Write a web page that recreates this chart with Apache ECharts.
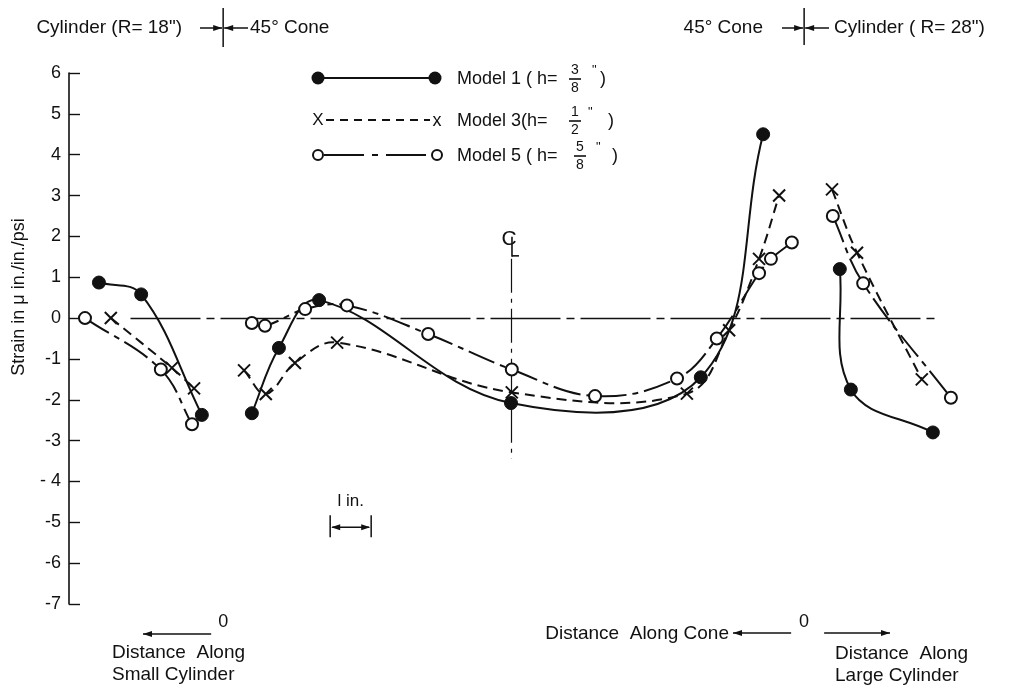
<!DOCTYPE html>
<html><head><meta charset="utf-8">
<script src="https://cdn.jsdelivr.net/npm/echarts@6/dist/echarts.min.js"></script>
<style>html,body{margin:0;padding:0;background:#fff}#c{width:1009px;height:690px}</style>
</head><body><div id="c"></div>
<script>
// ---- data (x: inches along the drawing, y: strain in micro in./in./psi) ----
const yTickLabels = ['-7','-6','-5','- 4','-3','-2','-1','0','1','2','3','4','5','6'];
const m1Small = [[0.73,0.87],[1.76,0.58],[3.24,-2.37]];
const m1Cone  = [[4.46,-2.33],[5.12,-0.73],[6.10,0.44],[10.78,-2.08],[15.41,-1.45],[16.93,4.5]];
const m1Large = [[18.80,1.2],[19.07,-1.75],[21.07,-2.8]];
const m3Small = [[1.02,0.0],[2.51,-1.22],[3.05,-1.72]];
const m3Cone  = [[4.27,-1.28],[4.80,-1.86],[5.51,-1.1],[6.54,-0.6],[10.80,-1.82],[15.07,-1.85],[16.10,-0.3],[16.83,1.45],[17.32,3.0]];
const m3Large = [[18.61,3.15],[19.22,1.6],[20.80,-1.5]];
const m5Small = [[0.39,0.0],[2.24,-1.26],[3.0,-2.6]];
const m5Cone  = [[4.46,-0.12],[4.78,-0.19],[5.76,0.22],[6.78,0.31],[8.76,-0.39],[10.80,-1.26],[12.83,-1.91],[14.83,-1.48],[15.80,-0.5],[16.83,1.1],[17.12,1.45],[17.63,1.85]];
const m5Large = [[18.63,2.5],[19.37,0.85],[21.51,-1.95]];
const junctionSmall = 3.76, junctionLarge = 17.93, centerLine = 10.78;
const scaleBar = [6.37, 7.37];

const FONT = 'Liberation Sans, Arial, sans-serif';
const INK = '#111';
const chart = echarts.init(document.getElementById('c'), null, {renderer:'canvas'});

const styles = {
  m1: {symbol:'circle', symbolSize:13, itemStyle:{color:INK, borderColor:INK, borderWidth:1, opacity:1}, dash:null},
  m3: {symbol:'path://M0,0L10,10M10,0L0,10', symbolSize:12, itemStyle:{color:'rgba(0,0,0,0)', borderColor:INK, borderWidth:2, opacity:1}, dash:[10,6]},
  m5: {symbol:'circle', symbolSize:12, itemStyle:{color:'#fff', borderColor:INK, borderWidth:2, opacity:1}, dash:[28,6,6,6]}
};

// smooth curve through the data points (chord-length Catmull-Rom in pixel space)
function curvePath(px, k){
  const n = px.length; if (n < 2) return '';
  const d = []; for (let i=0;i<n-1;i++) d.push(Math.hypot(px[i+1][0]-px[i][0], px[i+1][1]-px[i][1]));
  const m = px.map((p,i)=>{
    if (i===0) return [(px[1][0]-p[0])/d[0], (px[1][1]-p[1])/d[0]];
    if (i===n-1) return [(p[0]-px[i-1][0])/d[i-1], (p[1]-px[i-1][1])/d[i-1]];
    const s = d[i-1]+d[i];
    return [(px[i+1][0]-px[i-1][0])/s, (px[i+1][1]-px[i-1][1])/s];
  });
  let s = `M${px[0][0]},${px[0][1]}`;
  for (let i=0;i<n-1;i++){
    const L = d[i]/3*k;
    s += ` C${px[i][0]+m[i][0]*L},${px[i][1]+m[i][1]*L} ${px[i+1][0]-m[i+1][0]*L},${px[i+1][1]-m[i+1][1]*L} ${px[i+1][0]},${px[i+1][1]}`;
  }
  return s;
}
function curve(key, data){
  return {type:'custom', data, silent:true, z:3, clip:false, encode:{x:0,y:1},
    renderItem:(params, api)=>{
      if (params.dataIndex !== 0) return null;
      const px = data.map(p=>api.coord(p));
      return {type:'path', shape:{pathData:curvePath(px, 1.15)},
        style:{fill:null, stroke:INK, lineWidth:2, lineDash:styles[key].dash}};
    }};
}
function marks(name, key, data){
  const st = styles[key];
  return {type:'scatter', name, data, z:5, silent:true, symbol:st.symbol, symbolSize:st.symbolSize,
    itemStyle:JSON.parse(JSON.stringify(st.itemStyle))};
}
const groups = [['Model 1','m1',[m1Small,m1Cone,m1Large]],['Model 3','m3',[m3Small,m3Cone,m3Large]],['Model 5','m5',[m5Small,m5Cone,m5Large]]];
const series = [];
groups.forEach(([name,key,segs])=>segs.forEach(s=>{ series.push(curve(key,s)); series.push(marks(name,key,s)); }));
series.push({type:'line', data:[], silent:true, markLine:{silent:true, symbol:'none', label:{show:false}, animation:false,
    data:[
      [{coord:[1.5,0], lineStyle:{type:[70,6,8,6], width:1.4, color:INK}},{coord:[21.15,0]}],
      [{coord:[junctionSmall,6.12], lineStyle:{type:'solid', width:1.6, color:INK}},{coord:[junctionSmall,-7.1]}],
      [{coord:[junctionLarge,6.2], lineStyle:{type:'solid', width:1.6, color:INK}},{coord:[junctionLarge,-6.75]}],
      [{coord:[centerLine,1.45], lineStyle:{type:[34,6,4,6], width:1.2, color:INK}},{coord:[centerLine,-3.45]}]
    ]}});

chart.setOption({
  animation:false,
  backgroundColor:'#fff',
  grid:{left:69, right:17.5, top:73, bottom:86},
  xAxis:{type:'value', min:0, max:22.5, show:false},
  yAxis:{type:'value', min:-7, max:6, interval:1,
    axisLine:{show:true, lineStyle:{color:INK, width:1.6}},
    axisTick:{show:true, inside:true, length:11, lineStyle:{color:INK, width:1.4}},
    splitLine:{show:false},
    axisLabel:{color:INK, fontSize:18, fontFamily:FONT, margin:8,
      formatter:v=>yTickLabels[Math.round(v)+7]}
  },
  series
});

// ---- annotations, positioned from the axis scales ----
const P = (x,y)=>chart.convertToPixel({gridIndex:0},[x,y]);
const jL = P(junctionSmall,0)[0], jR = P(junctionLarge,0)[0], cX = P(centerLine,0)[0];
const g = [];
const txt = (x,y,t,opt={})=>g.push({type:'text', x, y, rotation:opt.rot||0, style:{text:t, fill:INK, font:`${opt.size||17}px ${FONT}`, textAlign:opt.align||'left', textVerticalAlign:'middle'}, z:10});
const line = (x1,y1,x2,y2,w=1.5,dash)=>g.push({type:'line', shape:{x1,y1,x2,y2}, style:{stroke:INK, lineWidth:w, lineDash:dash||null}, z:10});
const head = (x,y,dir)=>g.push({type:'polygon', shape:{points:[[x,y],[x-dir*9,y-3],[x-dir*9,y+3]]}, style:{fill:INK}, z:10});
const arrow = (x1,y,x2)=>{ line(x1,y,x2,y,1.5); head(x2,y,x2>x1?1:-1); };

// axis title
txt(19,297,'Strain in \u03bc in./in./psi',{rot:Math.PI/2, align:'center', size:18});

// top headers
txt(182,28,'Cylinder (R= 18")',{align:'right', size:19});
line(jL,8,jL,47,1.5);
arrow(200,28,jL-1); arrow(248,28,jL+1);
txt(250,28,'45° Cone',{size:19});
txt(763,28,'45° Cone',{align:'right', size:19});
line(jR,8,jR,45,1.5);
arrow(782,28,jR-1); arrow(829,28,jR+1);
txt(834,28,'Cylinder ( R= 28")',{size:19});

// bottom labels
txt(jL,622,'0',{align:'center', size:18});
arrow(jL-12,634,143);
txt(112,653,'Distance  Along',{size:19});
txt(112,675,'Small Cylinder',{size:19});
txt(jR,622,'0',{align:'center', size:18});
arrow(jR-13,633,733);
txt(729,634,'Distance  Along Cone',{align:'right', size:19});
arrow(jR+20,633,890);
txt(835,654,'Distance  Along',{size:19});
txt(835,676,'Large Cylinder',{size:19});

// scale bar 1 in.
const sb1 = P(scaleBar[0],-5.12), sb2 = P(scaleBar[1],-5.12);
line(sb1[0],sb1[1]-12,sb1[0],sb1[1]+10,1.5); line(sb2[0],sb2[1]-12,sb2[0],sb2[1]+10,1.5);
line(sb1[0]+2,sb1[1],sb2[0]-2,sb1[1],1.5); head(sb1[0]+1,sb1[1],-1); head(sb2[0]-1,sb1[1],1);
txt((sb1[0]+sb2[0])/2,sb1[1]-26,'l in.',{align:'center', size:17});

// centreline symbol
const cTop = P(centerLine,1.45)[1];
txt(cX-2,cTop-20,'C',{align:'center', size:21});
line(cX+1,cTop-22,cX+1,cTop-2,1.6); line(cX+1,cTop-3,cX+8,cTop-3,1.6);

// legend
function frac(x,yc,n,d){ txt(x,yc-9,n,{align:'center', size:14}); line(x-6,yc,x+6,yc,1.6); txt(x,yc+9,d,{align:'center', size:14}); }
line(318,78,435,78,2); g.push({type:'circle',shape:{cx:318,cy:78,r:6.5},style:{fill:INK},z:10}); g.push({type:'circle',shape:{cx:435,cy:78,r:6.5},style:{fill:INK},z:10});
txt(457,79,'Model 1 ( h=',{size:18}); frac(575,79,'3','8'); txt(592,70,'"',{size:13}); txt(600,79,')',{size:18});
txt(318,120,'X',{align:'center', size:17}); txt(437,121,'x',{align:'center', size:18}); line(326,120,430,120,2,[8,6]);
txt(457,121,'Model 3(h=',{size:18}); frac(575,121,'1','2'); txt(588,112,'"',{size:13}); txt(608,121,')',{size:18});
line(324,155,432,155,2,[40,8,6,8]);
g.push({type:'circle',shape:{cx:318,cy:155,r:5},style:{fill:'#fff',stroke:INK,lineWidth:2},z:11});
g.push({type:'circle',shape:{cx:437,cy:155,r:5},style:{fill:'#fff',stroke:INK,lineWidth:2},z:11});
txt(457,156,'Model 5 ( h=',{size:18}); frac(580,156,'5','8'); txt(596,147,'"',{size:13}); txt(612,156,')',{size:18});

chart.setOption({graphic:{elements:g}});
</script></body></html>
